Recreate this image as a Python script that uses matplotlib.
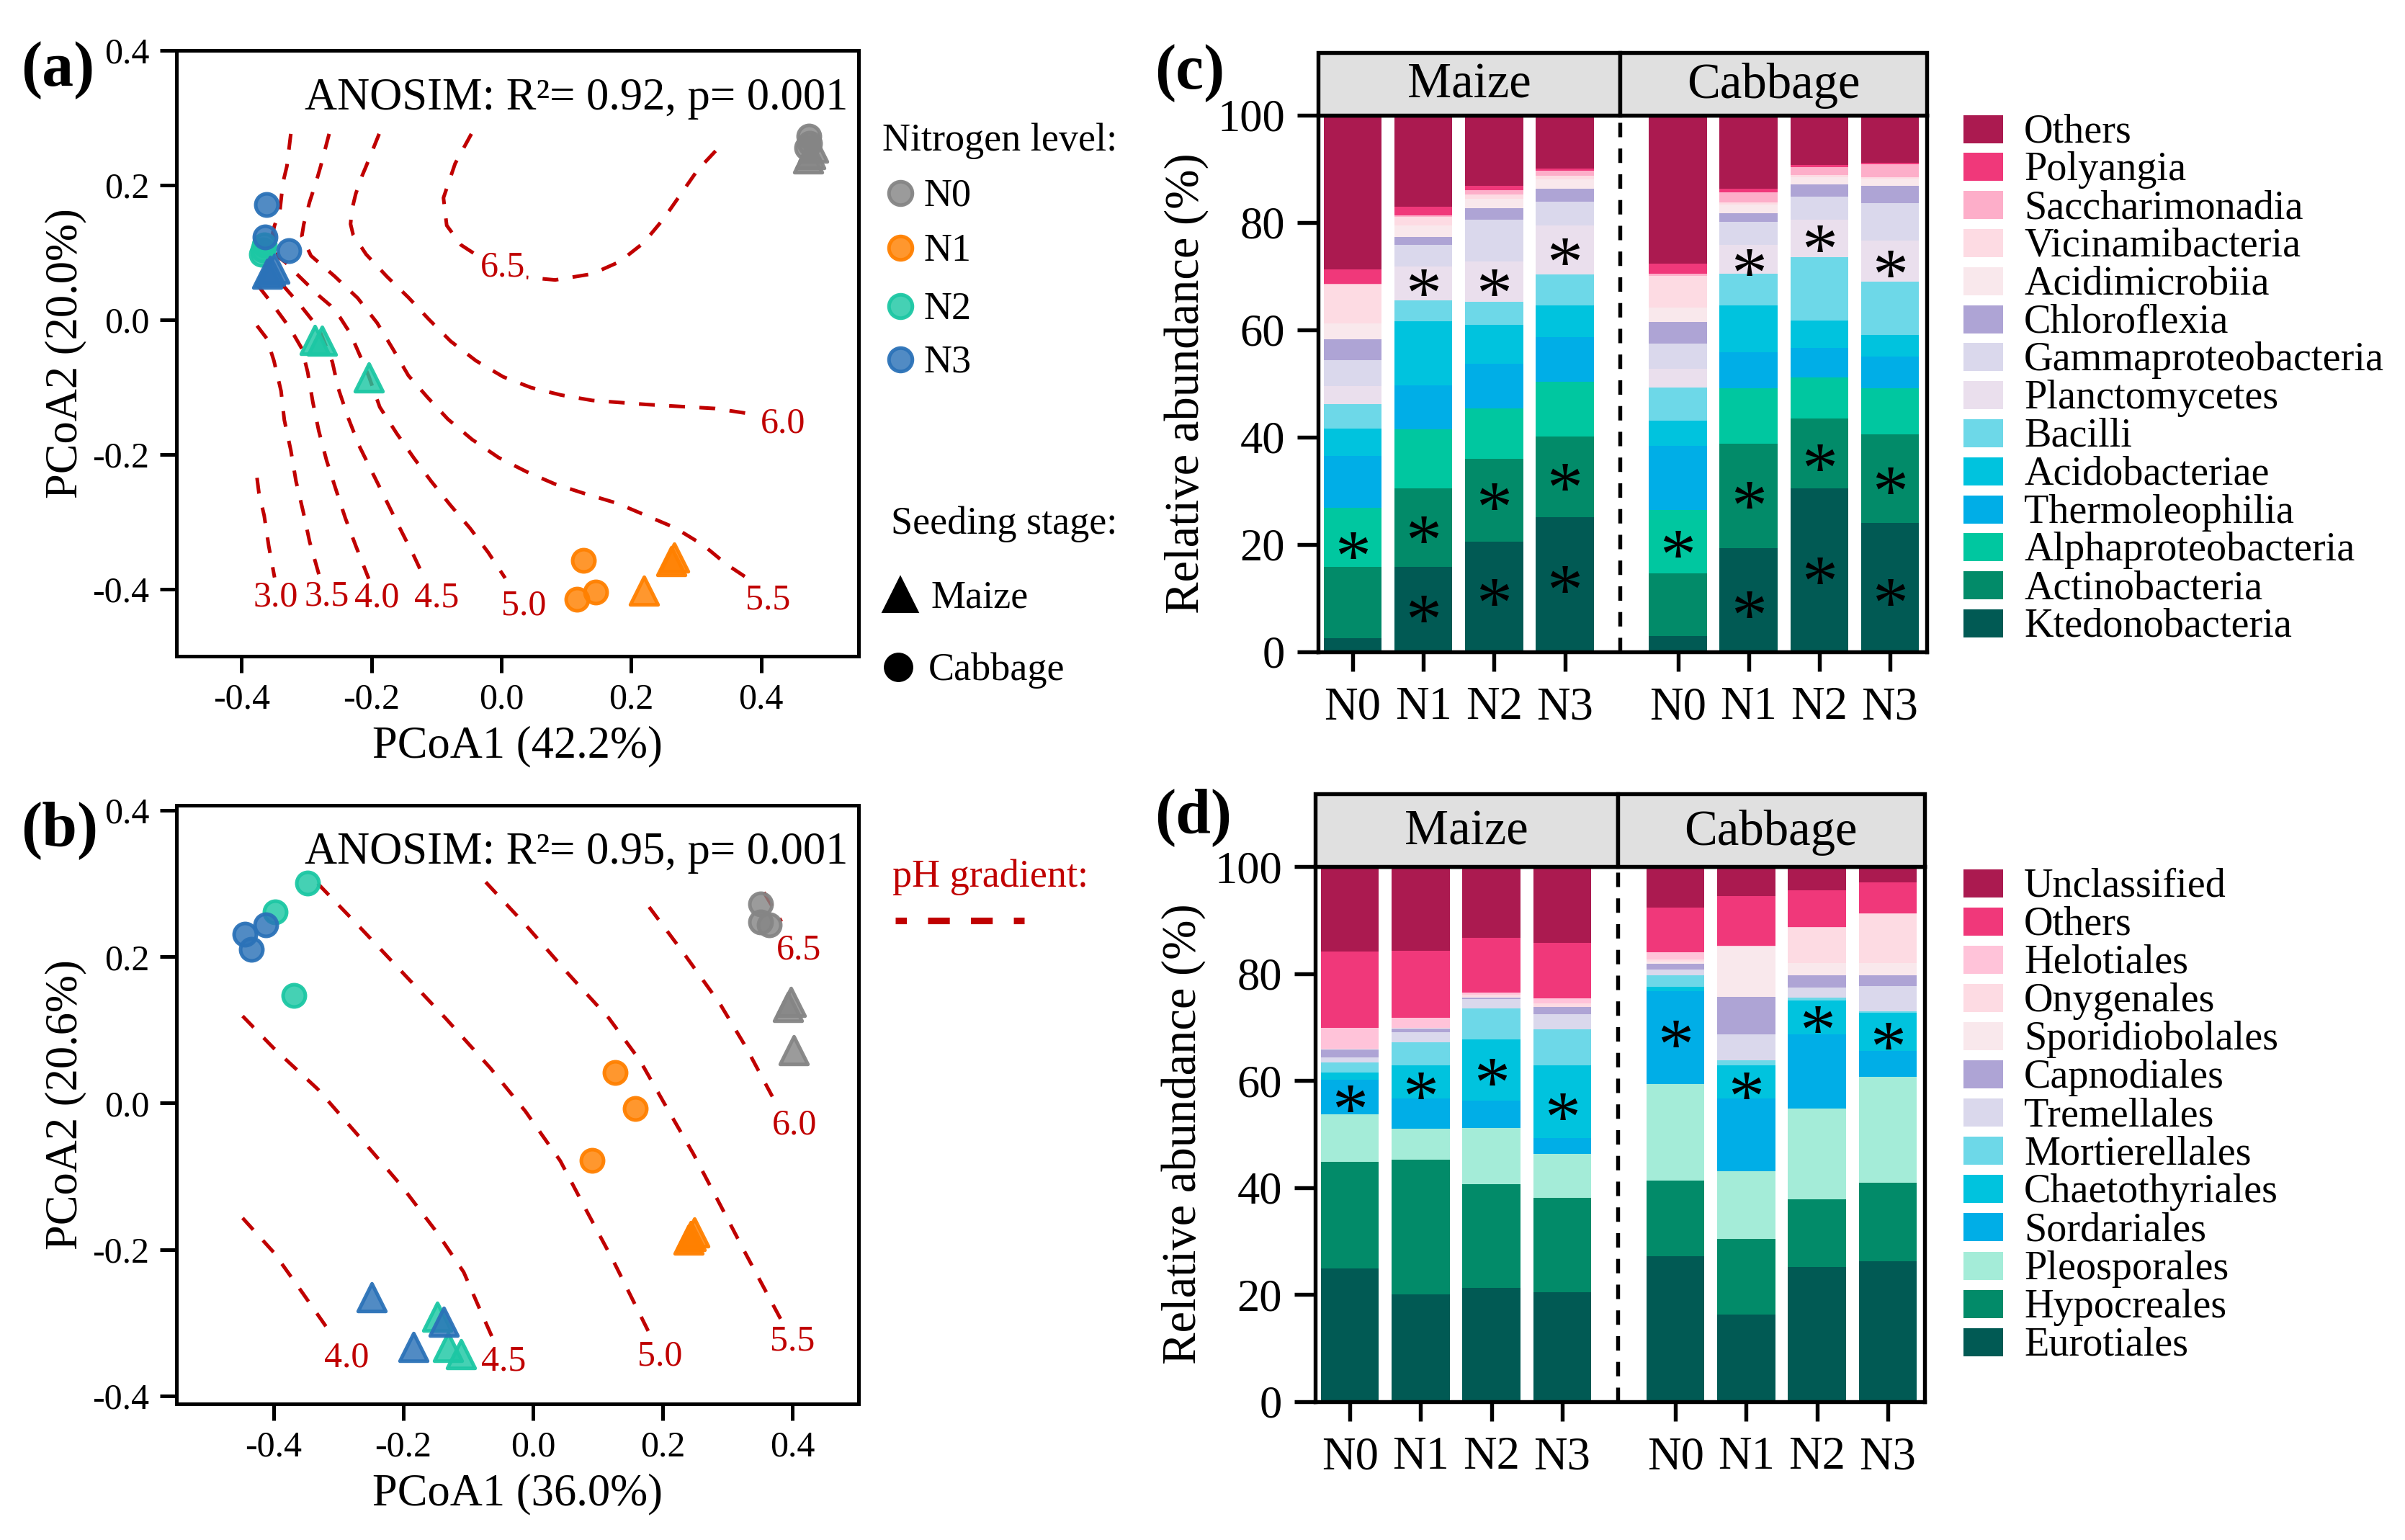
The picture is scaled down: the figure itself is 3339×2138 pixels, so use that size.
import numpy as np
import matplotlib
matplotlib.use("Agg")
import matplotlib.pyplot as plt
from matplotlib.colors import to_rgba
from matplotlib.patches import Rectangle

plt.rcParams['font.family'] = ['Liberation Serif', 'DejaVu Serif']
plt.rcParams['axes.unicode_minus'] = False

W, H = 3339, 2138
PT = 300 / 72.0          # pixels per point
PH_RED = '#C00000'

# ---------------- PCoA data ----------------
levels = ['N0', 'N1', 'N2', 'N3']
level_colors = ['#858585', '#FF8000', '#1CC7A4', '#2B72B8']

# (a) bacteria, 3 cabbage + 3 maize per N level
a_level = ['N0'] * 6 + ['N1'] * 6 + ['N2'] * 6 + ['N3'] * 6
a_stage = (['Cabbage'] * 3 + ['Maize'] * 3) * 4
a_x = [0.473, 0.475, 0.470, 0.476, 0.480, 0.472,
       0.127, 0.145, 0.116, 0.262, 0.266, 0.220,
       -0.369, -0.365, -0.367, -0.287, -0.276, -0.204,
       -0.361, -0.364, -0.327, -0.360, -0.349, -0.356]
a_y = [0.273, 0.262, 0.255, 0.246, 0.255, 0.239,
       -0.358, -0.405, -0.415, -0.359, -0.353, -0.403,
       0.097, 0.111, 0.104, -0.030, -0.031, -0.086,
       0.171, 0.123, 0.102, 0.068, 0.076, 0.072]

# (b) fungi
b_level = a_level
b_stage = a_stage
b_x = [0.351, 0.351, 0.364, 0.398, 0.393, 0.402,
       0.126, 0.158, 0.091, 0.243, 0.249, 0.240,
       -0.398, -0.348, -0.369, -0.148, -0.131, -0.111,
       -0.444, -0.412, -0.435, -0.249, -0.138, -0.184]
b_y = [0.272, 0.248, 0.244, 0.138, 0.131, 0.072,
       0.042, -0.007, -0.078, -0.182, -0.177, -0.187,
       0.261, 0.301, 0.147, -0.292, -0.333, -0.343,
       0.231, 0.244, 0.210, -0.265, -0.299, -0.333]

# pH isolines (a)
ph_a_labels = ['3.0', '3.5', '4.0', '4.5', '5.0', '5.5', '6.0', '6.5']
ph_a_lab_x = [-0.347, -0.269, -0.192, -0.099, 0.035, 0.410, 0.434, 0.002]
ph_a_lab_y = [-0.412, -0.411, -0.414, -0.414, -0.425, -0.417, -0.155, 0.078]
ph_a_x = [
    [-0.376, -0.373, -0.365, -0.358, -0.349],
    [-0.376, -0.361, -0.350, -0.339, -0.334, -0.324, -0.316, -0.305, -0.295, -0.280],
    [-0.374, -0.353, -0.325, -0.307, -0.298, -0.290, -0.281, -0.269, -0.254, -0.240, -0.224, -0.204],
    [-0.337, -0.309, -0.281, -0.260, -0.251, -0.236, -0.219, -0.198, -0.177, -0.156, -0.135, -0.119],
    [-0.324, -0.330, -0.336, -0.341, -0.349, -0.352, -0.343, -0.332, -0.315, -0.298, -0.280, -0.263,
     -0.248, -0.234, -0.224, -0.215, -0.204, -0.187, -0.161, -0.135, -0.108, -0.078, -0.048, -0.020, 0.006],
    [-0.265, -0.278, -0.284, -0.295, -0.304, -0.307, -0.293, -0.256, -0.221, -0.191, -0.166, -0.143,
     -0.113, -0.082, -0.045, -0.004, 0.039, 0.082, 0.127, 0.179, 0.223, 0.267, 0.311, 0.346, 0.377],
    [-0.188, -0.208, -0.215, -0.224, -0.230, -0.232, -0.228, -0.208, -0.176, -0.143, -0.111, -0.078,
     -0.039, 0.003, 0.046, 0.092, 0.140, 0.223, 0.329, 0.384],
    [-0.046, -0.071, -0.089, -0.084, -0.062, -0.035, 0.000, 0.037, 0.083, 0.140, 0.182, 0.219,
     0.250, 0.276, 0.302, 0.341],
]
ph_a_y = [
    [-0.235, -0.258, -0.291, -0.336, -0.383],
    [-0.009, -0.028, -0.061, -0.106, -0.149, -0.194, -0.240, -0.285, -0.330, -0.381],
    [0.050, 0.024, -0.013, -0.043, -0.078, -0.123, -0.165, -0.209, -0.254, -0.295, -0.336, -0.385],
    [0.052, 0.021, -0.013, -0.063, -0.102, -0.145, -0.187, -0.228, -0.269, -0.310, -0.350, -0.383],
    [0.276, 0.228, 0.204, 0.160, 0.140, 0.128, 0.093, 0.085, 0.068, 0.052, 0.035, 0.021,
     0.003, -0.018, -0.039, -0.059, -0.084, -0.130, -0.169, -0.205, -0.240, -0.276, -0.310, -0.346, -0.384],
    [0.276, 0.228, 0.208, 0.175, 0.142, 0.124, 0.095, 0.064, 0.032, -0.005, -0.045, -0.083,
     -0.116, -0.148, -0.178, -0.205, -0.226, -0.244, -0.258, -0.273, -0.291, -0.309, -0.335, -0.363, -0.383],
    [0.276, 0.228, 0.212, 0.187, 0.163, 0.142, 0.126, 0.097, 0.064, 0.033, 0.000, -0.032,
     -0.061, -0.085, -0.101, -0.112, -0.120, -0.126, -0.132, -0.140],
    [0.276, 0.232, 0.181, 0.140, 0.111, 0.094, 0.075, 0.063, 0.059, 0.068, 0.086, 0.114,
     0.150, 0.186, 0.222, 0.262],
]

# pH isolines (b)
ph_b_labels = ['4.0', '4.5', '5.0', '5.5', '6.0', '6.5']
ph_b_lab_x = [-0.288, -0.046, 0.196, 0.400, 0.403, 0.410]
ph_b_lab_y = [-0.348, -0.353, -0.346, -0.326, -0.030, 0.209]
ph_b_x = [
    [-0.448, -0.400, -0.359, -0.318],
    [-0.448, -0.400, -0.332, -0.264, -0.203, -0.148, -0.107, -0.083, -0.060],
    [-0.332, -0.271, -0.203, -0.135, -0.066, -0.012, 0.042, 0.083, 0.124, 0.179],
    [-0.073, -0.012, 0.056, 0.117, 0.165, 0.206, 0.247, 0.288, 0.328, 0.383],
    [0.179, 0.233, 0.288, 0.328, 0.369],
    [0.356, 0.383],
]
ph_b_y = [
    [-0.157, -0.204, -0.255, -0.307],
    [0.119, 0.075, 0.019, -0.050, -0.113, -0.177, -0.231, -0.280, -0.326],
    [0.300, 0.244, 0.180, 0.116, 0.048, -0.011, -0.079, -0.148, -0.216, -0.314],
    [0.302, 0.244, 0.175, 0.116, 0.058, -0.006, -0.069, -0.138, -0.206, -0.297],
    [0.268, 0.204, 0.136, 0.077, 0.009],
    [0.288, 0.248],
]

# ---------------- relative abundance data ----------------
bar_x = [1, 2, 3, 4, 5.6, 6.6, 7.6, 8.6]
bar_labels = ['N0', 'N1', 'N2', 'N3', 'N0', 'N1', 'N2', 'N3']
divider_x = 4.78

# (c) bacterial classes, bottom -> top; columns: maize N0-N3, cabbage N0-N3
c_taxa = ['Ktedonobacteria', 'Actinobacteria', 'Alphaproteobacteria', 'Thermoleophilia',
          'Acidobacteriae', 'Bacilli', 'Planctomycetes', 'Gammaproteobacteria',
          'Chloroflexia', 'Acidimicrobiia', 'Vicinamibacteria', 'Saccharimonadia',
          'Polyangia', 'Others']
c_colors = ['#015A54', '#028B69', '#00C7A0', '#00AEE7', '#00C3DE', '#6DD8E8', '#EADFED',
            '#DAD8EC', '#AEA4D5', '#F9E8EC', '#FDDBE3', '#FDAEC9', '#F0387A', '#AB1A50']
c_values = [
    [2.5, 15.9, 20.6, 25.1, 2.9, 19.3, 30.5, 24.0],
    [13.3, 14.6, 15.4, 15.1, 11.7, 19.5, 13.0, 16.6],
    [11.0, 11.0, 9.4, 10.2, 11.9, 10.3, 7.7, 8.5],
    [9.7, 8.2, 8.3, 8.2, 11.9, 6.8, 5.5, 5.9],
    [5.1, 11.9, 7.3, 6.0, 4.7, 8.7, 5.1, 4.0],
    [4.6, 3.9, 4.3, 5.7, 6.1, 5.9, 11.7, 10.0],
    [3.3, 6.3, 7.5, 9.2, 3.5, 5.3, 7.1, 7.6],
    [4.8, 4.1, 7.7, 4.4, 4.8, 4.4, 4.2, 7.0],
    [3.9, 1.4, 2.2, 2.4, 4.0, 1.6, 2.3, 3.2],
    [3.0, 2.2, 1.7, 1.7, 2.6, 1.5, 1.4, 1.4],
    [7.3, 1.6, 0.9, 0.7, 6.0, 0.4, 0.3, 0.2],
    [0.1, 0.2, 0.8, 0.9, 0.4, 2.0, 1.5, 2.5],
    [2.7, 1.7, 0.7, 0.4, 1.9, 0.6, 0.4, 0.3],
    [28.7, 17.0, 13.2, 10.0, 27.6, 13.7, 9.3, 8.8],
]
c_star_bar = [0, 1, 1, 1, 2, 2, 2, 3, 3, 3, 4, 5, 5, 5, 6, 6, 6, 7, 7, 7]
c_star_y = [19.8, 8.0, 22.8, 68.8, 11.2, 29.0, 68.8, 13.5, 32.6, 74.6,
            20.2, 8.8, 29.2, 72.6, 15.2, 36.2, 77.1, 11.2, 31.9, 72.4]

# (d) fungal orders, bottom -> top
d_taxa = ['Eurotiales', 'Hypocreales', 'Pleosporales', 'Sordariales', 'Chaetothyriales',
          'Mortierellales', 'Tremellales', 'Capnodiales', 'Sporidiobolales', 'Onygenales',
          'Helotiales', 'Others', 'Unclassified']
d_colors = ['#015A54', '#028B69', '#A4ECD8', '#00AEE7', '#00C3DE', '#6DD8E8', '#DAD8EC',
            '#AEA4D5', '#F9E8EC', '#FDDBE3', '#FFC3D9', '#F0387A', '#AB1A50']
d_values = [
    [24.9, 20.0, 21.2, 20.4, 27.2, 16.3, 25.2, 26.2],
    [19.9, 25.2, 19.4, 17.7, 14.1, 14.1, 12.6, 14.7],
    [8.9, 5.8, 10.6, 8.2, 18.0, 12.7, 17.0, 19.8],
    [6.5, 5.6, 5.0, 3.0, 17.4, 13.5, 13.9, 4.8],
    [1.3, 6.3, 11.5, 13.6, 0.8, 6.3, 6.3, 7.2],
    [1.9, 4.3, 5.8, 6.7, 2.2, 0.9, 0.5, 0.2],
    [0.9, 1.9, 1.7, 2.8, 1.0, 4.8, 1.9, 4.8],
    [1.5, 0.6, 0.3, 1.3, 1.1, 7.1, 2.3, 2.0],
    [0.1, 0.1, 0.2, 0.1, 0.4, 9.3, 2.3, 2.2],
    [0.1, 0.1, 0.3, 0.6, 0.5, 0.1, 6.6, 9.2],
    [3.9, 1.9, 0.4, 1.0, 1.3, 0.1, 0.1, 0.2],
    [14.2, 12.5, 10.3, 10.4, 8.3, 9.3, 6.8, 5.7],
    [15.9, 15.7, 13.3, 14.2, 7.7, 5.5, 4.5, 3.0],
]
d_star_bar = [0, 1, 2, 3, 4, 5, 6, 7]
d_star_y = [56.6, 59.1, 61.6, 55.2, 68.8, 59.1, 71.4, 68.4]

STAR_FS = 24


def rect(l, t, r, b):
    return [l / W, 1 - b / H, (r - l) / W, (b - t) / H]


def draw_pcoa(ax, lv, st, xs, ys, lines_x, lines_y, labs, lab_x, lab_y,
              xlim, ylim, xlabel, ylabel, anosim):
    for lx, ly in zip(lines_x, lines_y):
        ax.plot(lx, ly, color=PH_RED, lw=1.2, ls=(0, (4.4, 4.0)), zorder=2)
    for s, x, y in zip(labs, lab_x, lab_y):
        ax.text(x, y, s, color=PH_RED, fontsize=12, ha='center', va='center', zorder=3,
                bbox=dict(facecolor='white', edgecolor='none', pad=0.6))
    for lev, col in zip(levels, level_colors):
        for stage, mk, sz in [('Cabbage', 'o', 55), ('Maize', '^', 85)]:
            idx = [i for i in range(len(xs)) if lv[i] == lev and st[i] == stage]
            ax.scatter([xs[i] for i in idx], [ys[i] for i in idx], marker=mk, s=sz,
                       facecolor=to_rgba(col, 0.82), edgecolor=to_rgba(col, 0.95),
                       linewidths=1.2, zorder=4)
    ax.set_xlim(*xlim)
    ax.set_ylim(*ylim)
    ticks = [-0.4, -0.2, 0.0, 0.2, 0.4]
    ax.set_xticks(ticks)
    ax.set_xticklabels(['%.1f' % t for t in ticks])
    ax.set_yticks(ticks)
    ax.set_yticklabels(['%.1f' % t for t in ticks])
    ax.tick_params(axis='both', labelsize=12, width=1.2, length=5.5, pad=3.5)
    for sp in ax.spines.values():
        sp.set_linewidth(1.2)
    ax.set_xlabel(xlabel, fontsize=15, labelpad=3)
    ax.set_ylabel(ylabel, fontsize=15, labelpad=2)
    ax.text(0.985, 0.955, anosim, transform=ax.transAxes, ha='right', va='top', fontsize=15)


def draw_bars(ax, sax, taxa, colors, values, star_bar, star_y):
    bottom = np.zeros(len(bar_x))
    for name, col, vals in zip(taxa, colors, values):
        ax.bar(bar_x, vals, bottom=bottom, width=0.82, color=col, linewidth=0, zorder=2)
        bottom = bottom + np.array(vals)
    for i, yv in zip(star_bar, star_y):
        ax.annotate('*', (bar_x[i], yv), xytext=(0, -0.47 * STAR_FS), textcoords='offset points',
                    ha='center', va='baseline', fontsize=STAR_FS, color='black', zorder=5)
    ax.axvline(divider_x, color='black', lw=1.3, ls=(0, (3.7, 2.9)), zorder=3)
    ax.set_xlim(0.51, 9.12)
    ax.set_ylim(0, 100)
    ax.set_yticks([0, 20, 40, 60, 80, 100])
    ax.set_xticks(bar_x)
    ax.set_xticklabels(bar_labels)
    ax.tick_params(axis='y', labelsize=15, width=1.3, length=7, pad=4)
    ax.tick_params(axis='x', labelsize=15.5, width=1.3, length=6.5, pad=5)
    for sp in ax.spines.values():
        sp.set_linewidth(1.3)
    ax.set_ylabel('Relative abundance (%)', fontsize=16, labelpad=3)
    # facet strip
    sax.set_xlim(0.51, 9.12)
    sax.set_ylim(0, 1)
    sax.axis('off')
    for x0, x1, name in [(0.51, divider_x, 'Maize'), (divider_x, 9.12, 'Cabbage')]:
        sax.add_patch(Rectangle((x0, 0), x1 - x0, 1, facecolor='#E0E0E0', edgecolor='black',
                                lw=1.3, clip_on=False))
        sax.text((x0 + x1) / 2, 0.47, name, ha='center', va='center', fontsize=16.5)


fig = plt.figure(figsize=(W / 300, H / 300), dpi=300)

ax_a = fig.add_axes(rect(245, 70, 1192, 911))
draw_pcoa(ax_a, a_level, a_stage, a_x, a_y, ph_a_x, ph_a_y, ph_a_labels, ph_a_lab_x, ph_a_lab_y,
          (-0.5, 0.55), (-0.5, 0.4), 'PCoA1 (42.2%)', 'PCoA2 (20.0%)',
          'ANOSIM: R\u00b2= 0.92, p= 0.001')

ax_b = fig.add_axes(rect(245, 1118, 1192, 1949))
draw_pcoa(ax_b, b_level, b_stage, b_x, b_y, ph_b_x, ph_b_y, ph_b_labels, ph_b_lab_x, ph_b_lab_y,
          (-0.55, 0.502), (-0.411, 0.407), 'PCoA1 (36.0%)', 'PCoA2 (20.6%)',
          'ANOSIM: R\u00b2= 0.95, p= 0.001')

ax_c = fig.add_axes(rect(1830, 160, 2675, 905))
sx_c = fig.add_axes(rect(1830, 73, 2675, 160))
draw_bars(ax_c, sx_c, c_taxa, c_colors, c_values, c_star_bar, c_star_y)

ax_d = fig.add_axes(rect(1826, 1203, 2672, 1946))
sx_d = fig.add_axes(rect(1826, 1102, 2672, 1203))
draw_bars(ax_d, sx_d, d_taxa, d_colors, d_values, d_star_bar, d_star_y)

# overlay in pixel coordinates for legends and panel tags
ov = fig.add_axes([0, 0, 1, 1])
ov.set_xlim(0, W)
ov.set_ylim(H, 0)
ov.axis('off')
ov.set_zorder(10)


def label_at(x, yc, s, size, **kw):
    # yc is the visual middle of the capitals
    ov.text(x, yc + 0.33 * size * PT, s, fontsize=size, ha='left', va='baseline', **kw)


for tag, x, yc in [('(a)', 29, 90), ('(b)', 29, 1145), ('(c)', 1603, 94), ('(d)', 1603, 1127)]:
    label_at(x, yc, tag, 21, fontweight='bold')

label_at(1225, 191, 'Nitrogen level:', 13)
for lev, col, yc in zip(levels, level_colors, [268, 344, 425, 499]):
    ov.plot([1250], [yc], marker='o', ms=7.8, color=to_rgba(col, 0.82),
            markeredgecolor=to_rgba(col, 0.95), mew=1.2)
    label_at(1282, yc, lev, 13)
label_at(1237, 723, 'Seeding stage:', 13)
ov.plot([1250], [826], marker='^', ms=11, color='black')
label_at(1292, 826, 'Maize', 13)
ov.plot([1247], [926], marker='o', ms=8.8, color='black')
label_at(1289, 926, 'Cabbage', 13)
label_at(1239, 1213, 'pH gradient:', 13, color=PH_RED)
ov.plot([1243, 1422], [1278, 1278], color=PH_RED, lw=2.2, ls=(1.6, (3.3, 3.2)))

for taxa, colors, top, pitch in [(c_taxa, c_colors, 179, 52.8), (d_taxa, d_colors, 1226, 53.1)]:
    for k, (name, col) in enumerate(zip(taxa[::-1], colors[::-1])):
        yc = top + k * pitch
        ov.add_patch(Rectangle((2726, yc - 19.5), 55, 39, facecolor=col, edgecolor='none'))
        label_at(2810, yc, name, 13.5)

fig.savefig('out.png', dpi=300)
